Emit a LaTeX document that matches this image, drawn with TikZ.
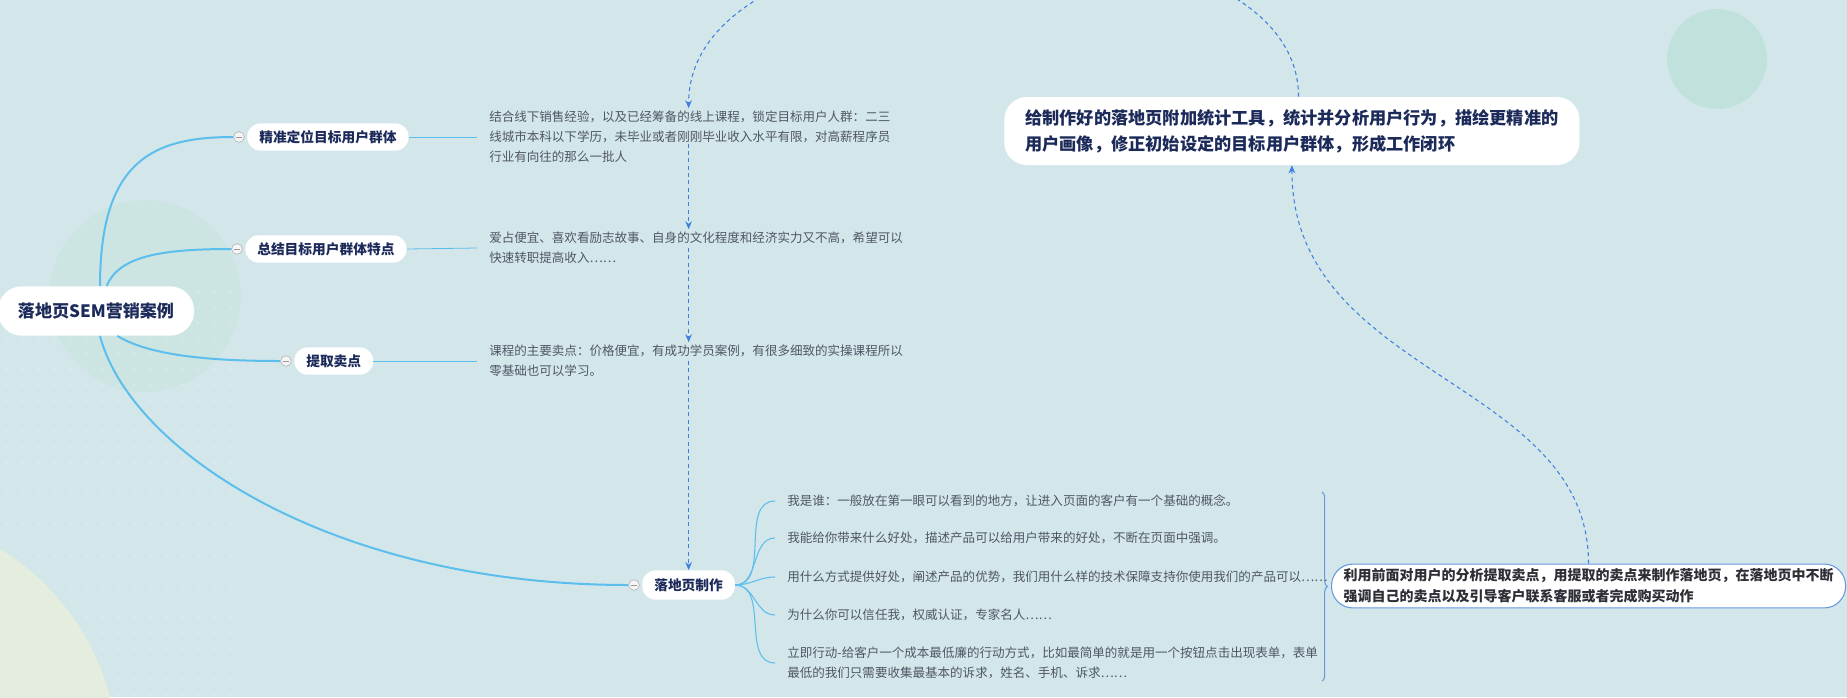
\documentclass[tikz,border=0pt]{standalone}
\usepackage{fontspec}
\setmainfont{Noto Sans CJK SC}
\usetikzlibrary{arrows.meta,decorations.pathreplacing}

\definecolor{canvas}{RGB}{211,231,235}
\definecolor{halo}{RGB}{204,229,227}
\definecolor{mint}{RGB}{192,225,220}
\definecolor{cream}{RGB}{229,238,222}
\definecolor{navy}{RGB}{28,42,90}
\definecolor{memotext}{RGB}{80,86,100}
\definecolor{branch}{RGB}{92,190,236}
\definecolor{rel}{RGB}{62,128,222}
\definecolor{frame}{RGB}{104,152,226}
\definecolor{ink}{RGB}{45,46,54}

\begin{document}
\begin{tikzpicture}[x=0.75pt, y=-0.75pt,
  root/.style={fill=white, rounded corners=18pt, inner xsep=15pt, minimum height=37pt, text=navy, font=\fontsize{12.8}{14}\selectfont\bfseries},
  topic/.style={fill=white, rounded corners=10pt, inner xsep=9pt, minimum height=20.5pt, text=navy, font=\fontsize{10.3}{12}\selectfont\bfseries},
  fold/.style={circle, draw=gray!65, fill=gray!8, minimum size=8pt, inner sep=0pt,
    path picture={\draw[gray!80, line width=0.6pt] ([xshift=1.5pt]path picture bounding box.west) -- ([xshift=-1.5pt]path picture bounding box.east);}},
  memo/.style={align=left, inner xsep=9pt, inner ysep=2pt, text=memotext, font=\fontsize{9.4}{15}\selectfont},
  summary/.style={fill=white, rounded corners=17pt, inner xsep=15.75pt, minimum height=51pt, align=left, text=navy, font=\fontsize{12.9}{19.5}\selectfont\bfseries},
  result/.style={draw=frame, line width=0.8pt, fill=white, rounded corners=16pt, inner xsep=9pt, minimum height=32pt, align=left, text=ink, font=\fontsize{10.5}{16}\selectfont\bfseries},
  branch/.style={draw=branch, line width=1.5pt},
  twig/.style={draw=branch, line width=0.8pt},
  rel/.style={draw=rel, line width=0.8pt, dash pattern=on 3pt off 2.5pt, -{Stealth[length=6pt,width=5pt]}}
]
\useasboundingbox (0,0) rectangle (1847,697);
\clip (0,0) rectangle (1847,697);

% background
\fill[canvas] (0,0) rectangle (1847,697);
\fill[halo] (145,296) circle (72pt);
\fill[cream] (-130,760) circle (186pt);
\fill[mint] (1717,59) circle (37.5pt);
\foreach \i in {0,...,14}
  \foreach \j in {0,...,26}
    \fill[white, opacity=0.22] (6+16*\i, 292+15.5*\j) circle (1.1pt);

% root and main topics
\node[root] (root) at (96,311) {落地页SEM营销案例};
\node[topic, anchor=west] (n1) at (247,137) {精准定位目标用户群体};
\node[topic, anchor=west] (n2) at (245,249) {总结目标用户群体特点};
\node[topic, anchor=west] (n3) at (294,361) {提取卖点};
\node[topic, anchor=west, minimum height=22pt] (n4) at (642,585) {落地页制作};
\node[fold] (f1) at ([xshift=-6pt]n1.west) {};
\node[fold] (f2) at ([xshift=-6pt]n2.west) {};
\node[fold] (f3) at ([xshift=-6pt]n3.west) {};
\node[fold] (f4) at ([xshift=-6pt]n4.west) {};

\draw[branch] ([xshift=3pt]root.north) .. controls +(0,-126) and +(-80,0) .. (f1.west);
\draw[branch] ([xshift=8pt]root.north) .. controls +(12,-30) and +(-70,0) .. (f2.west);
\draw[branch] ([xshift=16pt]root.south) .. controls +(30,18) and +(-80,0) .. (f3.west);
\draw[branch] ([xshift=3pt]root.south) .. controls +(30,114) and +(-298,0) .. (f4.west);

% notes
\node[memo, anchor=west] (t1) at (477,137) {结合线下销售经验，以及已经筹备的线上课程，锁定目标用户人群：二三\\线城市本科以下学历，未毕业或者刚刚毕业收入水平有限，对高薪程序员\\行业有向往的那么一批人};
\node[memo, anchor=west] (t2) at (477,248) {爱占便宜、喜欢看励志故事、自身的文化程度和经济实力又不高，希望可以\\快速转职提高收入……};
\node[memo, anchor=west] (t3) at (477,361) {课程的主要卖点：价格便宜，有成功学员案例，有很多细致的实操课程所以\\零基础也可以学习。};
\draw[twig, line width=0.6pt] (n1.east) -- (t1.west);
\draw[twig, line width=0.6pt] (n2.east) -- (t2.west);
\draw[twig, line width=0.6pt] (n3.east) -- (t3.west);

% landing page parts
\node[memo, anchor=west] (d1) at (775,501) {我是谁：一般放在第一眼可以看到的地方，让进入页面的客户有一个基础的概念。};
\node[memo, anchor=west] (d2) at (775,538) {我能给你带来什么好处，描述产品可以给用户带来的好处，不断在页面中强调。};
\node[memo, anchor=west] (d3) at (775,577) {用什么方式提供好处，阐述产品的优势，我们用什么样的技术保障支持你使用我们的产品可以……};
\node[memo, anchor=west] (d4) at (775,615) {为什么你可以信任我，权威认证，专家名人……};
\node[memo, anchor=west] (d5) at (775,663) {立即行动-给客户一个成本最低廉的行动方式，比如最简单的就是用一个按钮点击出现表单，表单\\最低的我们只需要收集最基本的诉求，姓名、手机、诉求……};
\foreach \d in {d1,d2,d3,d4,d5}
  \draw[twig] (n4.east) to[out=0, in=180] (\d.west);

% summary of the landing page
\coordinate (bt) at (1322,492);
\coordinate (bb) at (1322,681);
\draw[draw=frame, line width=0.8pt, decorate, decoration={brace, amplitude=4pt}] (bt) -- (bb);
\node[result, anchor=west] (b5) at (1331,586) {利用前面对用户的分析提取卖点，用提取的卖点来制作落地页，在落地页中不断\\强调自己的卖点以及引导客户联系客服或者完成购买动作};

% closing the loop
\node[summary, anchor=west] (b6) at (1004,131) {给制作好的落地页附加统计工具，统计并分析用户行为，描绘更精准的\\用户画像，修正初始设定的目标用户群体，形成工作闭环};

\draw[rel] (b5.north) .. controls +(0,-185) and +(0,213) .. (b6.south);
\draw[rel] ([xshift=5pt]b6.north) .. controls +(0,-207) and +(0,-214) .. (t1.north -| n4);
\draw[rel] ([yshift=-5pt]t1.center -| n4) -- (t2.north -| n4);
\draw[rel] (t2 -| n4) -- (t3.north -| n4);
\draw[rel] (t3 -| n4) -- (n4);
\end{tikzpicture}
\end{document}
